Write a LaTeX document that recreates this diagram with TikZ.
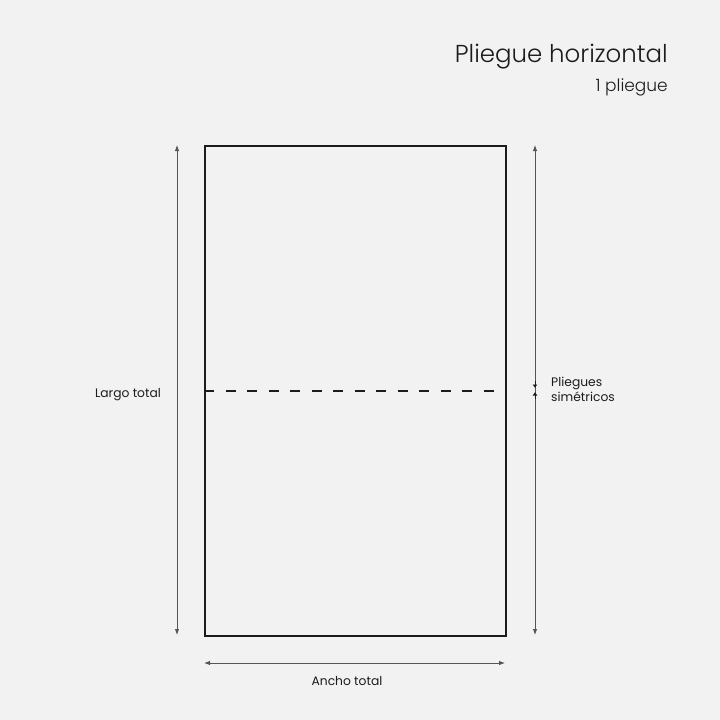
\documentclass[tikz,border=0pt]{standalone}
\usepackage{fontspec}
\setmainfont{Poppins}
\newfontfamily\lightfont{Poppins Light}
\usetikzlibrary{arrows.meta,positioning}
\definecolor{paper}{HTML}{F2F2F2}
\definecolor{ink}{HTML}{1C1C1C}
\definecolor{rule}{HTML}{555555}

\begin{document}
\begin{tikzpicture} [
      x = 1pt, y = -1pt,
      dim/.style = { line width = 0.9pt, draw = rule, {Latex[length=6pt,width=4.5pt]}-{Latex[length=6pt,width=4.5pt]} },
      tick/.style = { line width = 0.9pt, draw = ink, -{Latex[length=3.5pt,width=5pt]} },
      every node/.style = { text = ink, font = \fontsize{12.3}{15}\selectfont, inner sep = 0 }
      ]
    
      \fill [paper] (0,0) rectangle (720,720);

      % title
      \node [anchor = east, font = \lightfont\fontsize{24.5}{29}\selectfont] (title) at (668,57) {Pliegue horizontal};
      \node [anchor = east, font = \lightfont\fontsize{17}{20}\selectfont] (count) at (668,87) {1 pliegue};

      % sheet and fold
      \node [draw = ink, line width = 1.8pt, minimum width = 301pt, minimum height = 490pt, anchor = north west] (sheet) at (204,145) {};
      \draw [ink, line width = 1.5pt, dash pattern = on 10pt off 11.5pt] (sheet.west) -- (sheet.east);

      % dimensions
      \coordinate (lt) at (177,145); \coordinate (lb) at (177,635);
      \coordinate (rt) at (535,145); \coordinate (rb) at (535,635);
      \coordinate (bl) at (204,663); \coordinate (br) at (505,663);
      \draw [dim] (lt) -- (lb);
      \draw [dim] (rt) -- (rb);
      \draw [dim] (bl) -- (br);

      \coordinate (ua) at (535,381); \coordinate (ub) at (535,388);
      \coordinate (da) at (535,399); \coordinate (db) at (535,392);
      \draw [tick] (ua) -- (ub);
      \draw [tick] (da) -- (db);

      % labels
      \node (length) at (128,395) {Largo total};
      \node (width) at (347,681) {Ancho total};
      \node [anchor = west, align = left, font = \fontsize{12.3}{15}\selectfont] (folds) at (551,389) {Pliegues\\simétricos};
    \end{tikzpicture}
\end{document}
